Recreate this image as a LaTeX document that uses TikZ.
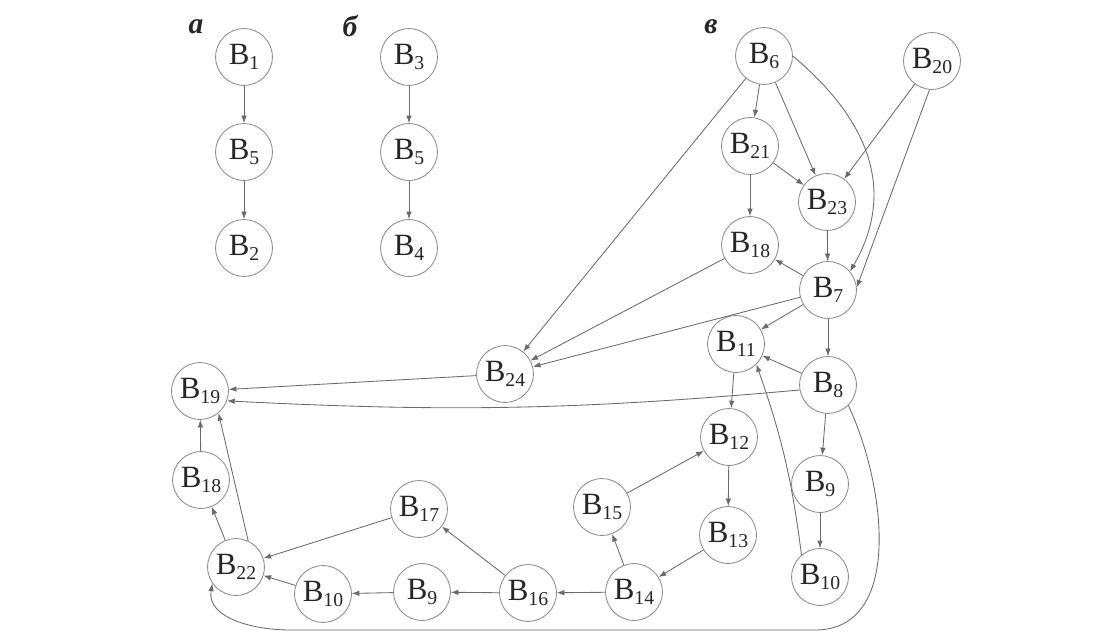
\documentclass[tikz,border=0pt]{standalone}
\usepackage{fontspec}
\setmainfont{Liberation Serif}
\usetikzlibrary{arrows.meta}
\definecolor{ink}{HTML}{262626}
\definecolor{rim}{HTML}{8C8C8C}
\definecolor{wire}{HTML}{6A6A6A}
\newcommand{\blk}[1]{B\raisebox{-4pt}{\fontsize{14}{14}\selectfont #1}}
\tikzset{
  vert/.style={circle,draw=rim,line width=0.6pt,minimum size=1.42cm,inner sep=0pt,
               text=ink,font=\fontsize{22}{24}\selectfont},
  link/.style={-{Latex[length=1.9mm,width=1.4mm]},line width=0.6pt,draw=wire},
  tag/.style ={text=ink,font=\fontsize{21}{22}\selectfont\bfseries\itshape}
}

\begin{document}
\begin{tikzpicture}[x=0.025cm,y=-0.025cm]
  \useasboundingbox (0,0) rectangle (1104,633);
  % labels of the three graphs
  \node[tag] (ta) at (196,27) {а};
  \node[tag] (tb) at (350,26) {б};
  \node[tag] (tc) at (711,27) {в};
  % graph a
  \node[vert] (a1) at (244,57)  {\blk{1}};
  \node[vert] (a5) at (244,152) {\blk{5}};
  \node[vert] (a2) at (244,248) {\blk{2}};
  \draw[link] (a1) -- (a5);
  \draw[link] (a5) -- (a2);
  % graph b
  \node[vert] (c3) at (409,57)  {\blk{3}};
  \node[vert] (c5) at (409,152) {\blk{5}};
  \node[vert] (c4) at (409,248) {\blk{4}};
  \draw[link] (c3) -- (c5);
  \draw[link] (c5) -- (c4);
  % graph v
  \node[vert] (b6)  at (764,56)  {\blk{6}};
  \node[vert] (b20) at (932,61)  {\blk{20}};
  \node[vert] (b21) at (750,146) {\blk{21}};
  \node[vert] (b23) at (827,202) {\blk{23}};
  \node[vert] (b18) at (750,245) {\blk{18}};
  \node[vert] (b7)  at (828,290) {\blk{7}};
  \node[vert] (b11) at (736,344) {\blk{11}};
  \node[vert] (b24) at (505,374) {\blk{24}};
  \node[vert] (b8)  at (828,385) {\blk{8}};
  \node[vert] (b19) at (200,391) {\blk{19}};
  \node[vert] (b12) at (729,437) {\blk{12}};
  \node[vert] (b9)  at (820,484) {\blk{9}};
  \node[vert] (l18) at (201,480) {\blk{18}};
  \node[vert] (b15) at (602,507) {\blk{15}};
  \node[vert] (b17) at (419,509) {\blk{17}};
  \node[vert] (b13) at (728,535) {\blk{13}};
  \node[vert] (b22) at (236,567) {\blk{22}};
  \node[vert] (b10) at (820,577) {\blk{10}};
  \node[vert] (b14) at (634,592) {\blk{14}};
  \node[vert] (b16) at (528,593) {\blk{16}};
  \node[vert] (l9)  at (422,592) {\blk{9}};
  \node[vert] (l10) at (323,594) {\blk{10}};
  \coordinate (lowR) at (815,630);
  \coordinate (lowL) at (290,630);
  % upper part
  \draw[link] (b6) -- (b21);
  \draw[link] (b6) -- (b23);
  \draw[link] (b6.0) to[out=-40,in=60,looseness=1.1] (b7.40);
  \draw[link] (b6) -- (b24);
  \draw[link] (b20) -- (b23);
  \draw[link] (b20.265) -- (b7.5);
  \draw[link] (b21) -- (b23);
  \draw[link] (b21) -- (b18);
  \draw[link] (b23) -- (b7);
  \draw[link] (b7) -- (b18);
  \draw[link] (b18) -- (b24);
  \draw[link] (b7) -- (b24);
  \draw[link] (b7) -- (b11);
  \draw[link] (b7) -- (b8);
  \draw[link] (b8) -- (b11);
  \draw[link] (b10.130) to[bend right=6] (b11.-45);
  \draw[link] (b11) -- (b12);
  \draw[link] (b8) -- (b9);
  \draw[link] (b9) -- (b10);
  \draw[link] (b24) -- (b19);
  \draw[link] (b8.190) to[bend left=4] (b19.-20);
  \draw[link] (b8.-45) to[out=-65,in=0] (lowR) -- (lowL) to[out=180,in=-100] (b22.215);
  % lower part
  \draw[link] (b12) -- (b13);
  \draw[link] (b15) -- (b12);
  \draw[link] (b13) -- (b14);
  \draw[link] (b14) -- (b15);
  \draw[link] (b14) -- (b16);
  \draw[link] (b16) -- (l9);
  \draw[link] (b16) -- (b17);
  \draw[link] (l9) -- (l10);
  \draw[link] (l10) -- (b22);
  \draw[link] (b17) -- (b22);
  \draw[link] (b22) -- (l18);
  \draw[link] (b22.65) -- (b19.-50);
  \draw[link] (l18) -- (b19);
\end{tikzpicture}
\end{document}
